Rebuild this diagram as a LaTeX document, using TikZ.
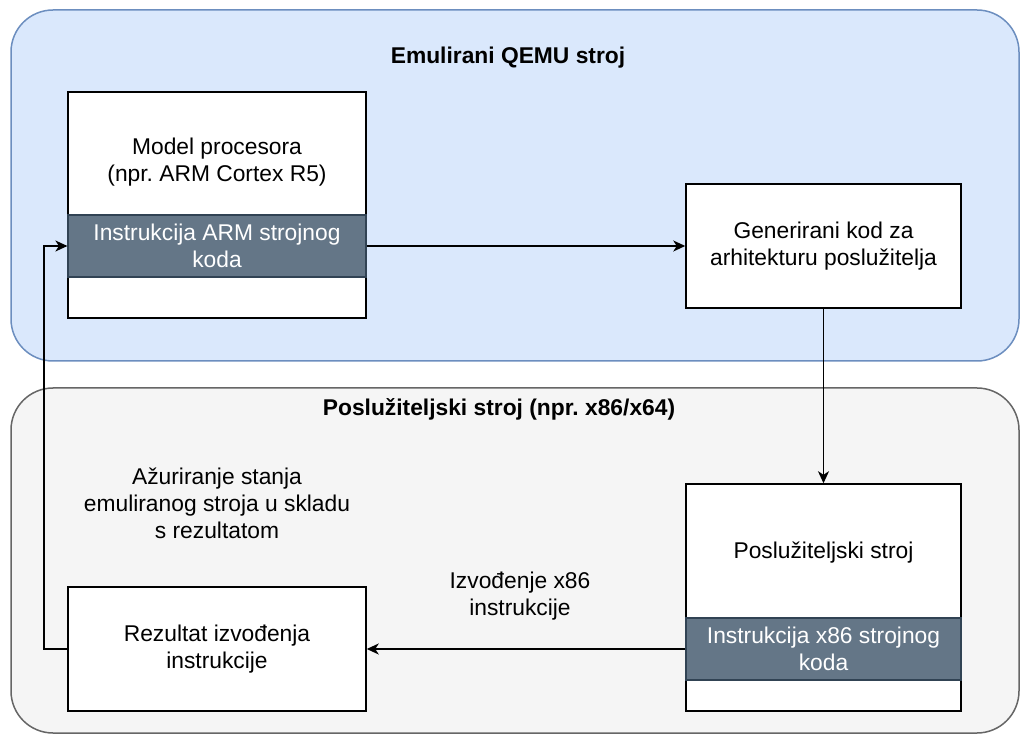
\documentclass[tikz,border=0pt]{standalone}
\usepackage{fontspec}
\setmainfont{Liberation Sans}
\usetikzlibrary{arrows.meta}
\definecolor{topfill}{HTML}{DAE8FC}
\definecolor{topdraw}{HTML}{6C8EBF}
\definecolor{botfill}{HTML}{F5F5F5}
\definecolor{botdraw}{HTML}{666666}
\definecolor{bandfill}{HTML}{647687}
\definecolor{banddraw}{HTML}{314354}
\frenchspacing
\tikzset{
  txt/.style={font=\fontsize{22.8}{27}\selectfont\frenchspacing, align=center, inner sep=0pt},
  ttl/.style={font=\fontsize{22.8}{27}\selectfont\bfseries\frenchspacing, align=center, inner sep=0pt},
  box/.style={draw=black, fill=white, line width=1.5pt, inner sep=0pt, minimum width=#1},
  band/.style={draw=banddraw, fill=bandfill, line width=1.2pt, inner sep=0pt, text=white,
     font=\fontsize{22.8}{27}\selectfont\frenchspacing, align=center, minimum height=62pt, minimum width=#1},
  conn/.style={line width=1.6pt, -{Stealth[length=12pt,width=11pt,inset=3.5pt]}},
}
\begin{document}
\begin{tikzpicture}[x=1pt,y=-1pt]
\useasboundingbox (0,0) rectangle (1021,735);
% containers
\draw[fill=topfill, draw=topdraw, line width=1.5pt, rounded corners=42pt] (11,10) rectangle (1019,361);
\draw[fill=botfill, draw=botdraw, line width=1.5pt, rounded corners=42pt] (11,388) rectangle (1019,733);
\node[ttl] (t1) at (508,58) {Emulirani QEMU stroj};
\node[ttl] (t2) at (499,409) {Poslužiteljski stroj (npr. x86/x64)};
% model box
\node[box=298pt, minimum height=226pt] (model) at (217,205) {};
\node[txt] (modeltxt) at (217,162) {Model procesora\\(npr. ARM Cortex R5)};
\node[band=298pt] (armband) at (217,246) {Instrukcija ARM strojnog\\koda};
% generated code
\node[box=275pt, minimum height=124pt, txt] (gen) at (823.5,246) {Generirani kod za\\arhitekturu poslužitelja};
% host machine
\node[box=275pt, minimum height=227pt] (host) at (823.5,597.5) {};
\node[txt] (hosttxt) at (823.5,553) {Poslužiteljski stroj};
\node[band=275pt] (x86band) at (823.5,649) {Instrukcija x86 strojnog\\koda};
% result
\node[box=298pt, minimum height=124pt, txt] (rez) at (217,649) {Rezultat izvođenja\\instrukcije};
% labels
\node[txt] (lab1) at (217,503) {Ažuriranje stanja\\emuliranog stroja u skladu\\s rezultatom};
\node[txt] (lab2) at (520,596) {Izvođenje x86\\instrukcije};
% connectors
\draw[conn] (armband.east) -- (gen.west);
\draw[conn] (gen.south) -- (host.north);
\draw[conn] (x86band.west) -- (rez.east);
\draw[conn] (rez.west) -- ++(-23,0) |- (armband.west);
\end{tikzpicture}
\end{document}
